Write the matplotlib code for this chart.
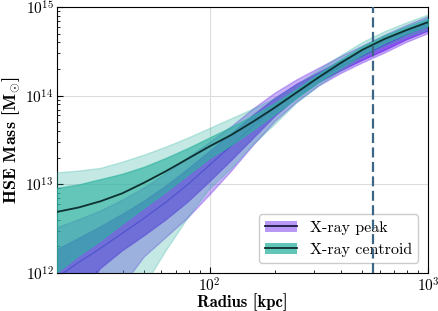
import matplotlib
matplotlib.use("Agg")
import matplotlib.pyplot as plt
from matplotlib.patches import Patch
from matplotlib.lines import Line2D
import numpy as np

plt.rcParams.update({"font.family": "cmr10", "mathtext.fontset": "cm",
                     "axes.unicode_minus": False, "font.size": 11,
                     "axes.formatter.use_mathtext": True})

# log10 radius [kpc] sample points
log_r = [1.3, 1.4, 1.5, 1.6, 1.7, 1.8, 1.9, 2.0, 2.1, 2.2, 2.3, 2.4, 2.5, 2.6, 2.7, 2.8, 2.9, 3.0]

# X-ray peak: log10 M [Msun], median and 68% / 95% bounds
peak_med = [11.95, 12.12, 12.28, 12.45, 12.62, 12.80, 13.00, 13.22, 13.44, 13.66, 13.88, 14.05, 14.20, 14.33, 14.45, 14.57, 14.69, 14.79]
peak_hi1 = [12.26, 12.39, 12.52, 12.66, 12.81, 12.98, 13.17, 13.37, 13.57, 13.78, 13.97, 14.13, 14.26, 14.39, 14.50, 14.62, 14.74, 14.84]
peak_lo1 = [11.00, 11.70, 12.05, 12.25, 12.42, 12.60, 12.80, 13.03, 13.27, 13.52, 13.77, 13.98, 14.15, 14.28, 14.40, 14.51, 14.63, 14.73]
peak_hi2 = [12.51, 12.60, 12.70, 12.82, 12.96, 13.12, 13.30, 13.47, 13.65, 13.85, 14.03, 14.18, 14.31, 14.44, 14.56, 14.68, 14.79, 14.89]
peak_lo2 = [10.00, 10.50, 11.10, 11.85, 12.18, 12.40, 12.62, 12.88, 13.15, 13.44, 13.71, 13.93, 14.11, 14.25, 14.37, 14.48, 14.60, 14.70]

# X-ray centroid
cen_med = [12.69, 12.74, 12.81, 12.90, 13.02, 13.15, 13.29, 13.43, 13.56, 13.71, 13.87, 14.04, 14.21, 14.37, 14.52, 14.64, 14.74, 14.83]
cen_hi1 = [12.96, 13.00, 13.06, 13.12, 13.20, 13.30, 13.41, 13.53, 13.65, 13.78, 13.92, 14.08, 14.25, 14.41, 14.56, 14.68, 14.78, 14.87]
cen_lo1 = [12.01, 12.20, 12.37, 12.56, 12.74, 12.92, 13.11, 13.30, 13.45, 13.62, 13.80, 13.98, 14.16, 14.32, 14.47, 14.60, 14.70, 14.79]
cen_hi2 = [13.13, 13.15, 13.18, 13.25, 13.33, 13.42, 13.52, 13.63, 13.74, 13.85, 13.97, 14.12, 14.29, 14.45, 14.60, 14.72, 14.82, 14.91]
cen_lo2 = [10.50, 10.80, 11.10, 11.50, 11.85, 12.25, 12.62, 12.95, 13.18, 13.45, 13.68, 13.92, 14.11, 14.28, 14.43, 14.56, 14.66, 14.74]

r500 = 561.0  # kpc

PEAK = "#7332eb"
CEN = "#2cb3a0"

r = 10 ** np.array(log_r)
L = lambda a: 10 ** np.array(a)

fig = plt.figure(figsize=(4.39, 3.11), dpi=100)
ax = fig.add_axes([0.130, 0.122, 0.845, 0.855])

ax.fill_between(r, L(peak_lo2), L(peak_hi2), color=PEAK, alpha=0.38, zorder=2)
ax.fill_between(r, L(peak_lo1), L(peak_hi1), color=PEAK, alpha=0.72, zorder=2)
ax.plot(r, L(peak_med), color="#5a2ee0", lw=0.8, zorder=3)
ax.fill_between(r, L(cen_lo2), L(cen_hi2), color=CEN, alpha=0.28, zorder=4)
ax.fill_between(r, L(cen_lo1), L(cen_hi1), color=CEN, alpha=0.63, zorder=4)
ax.plot(r, L(cen_med), color="#0d3030", lw=1.3, zorder=5)

ax.axvline(r500, color="#3d6585", lw=1.6, ls=(0, (4.5, 2)), zorder=6)

ax.set_xscale("log"); ax.set_yscale("log")
ax.set_xlim(20, 1000); ax.set_ylim(1e12, 1e15)
ax.grid(True, which="major", color="#dcdcdc", lw=0.8, zorder=0)
ax.tick_params(which="both", direction="in", top=False, right=False)
ax.tick_params(which="major", length=4, pad=2.5)
ax.tick_params(which="minor", length=2)

ax.set_xlabel("Radius [kpc]", fontfamily="cmb10", fontsize=12, labelpad=-1)
ax.set_ylabel(r"HSE Mass [$\mathbf{M}_{\odot}$]", fontfamily="cmb10", fontsize=13, labelpad=2)

h_peak = (Patch(facecolor=PEAK, alpha=0.5, lw=0), Line2D([], [], color="#1a1a40", lw=1.3))
h_cen = (Patch(facecolor=CEN, alpha=0.75, lw=0), Line2D([], [], color="#0d3030", lw=1.3))
ax.legend([h_peak, h_cen], ["X-ray peak", "X-ray centroid"], loc="lower right",
          fontsize=11.5, framealpha=1, edgecolor="#cccccc", borderaxespad=0.6)

fig.savefig("out.png", dpi=100)
